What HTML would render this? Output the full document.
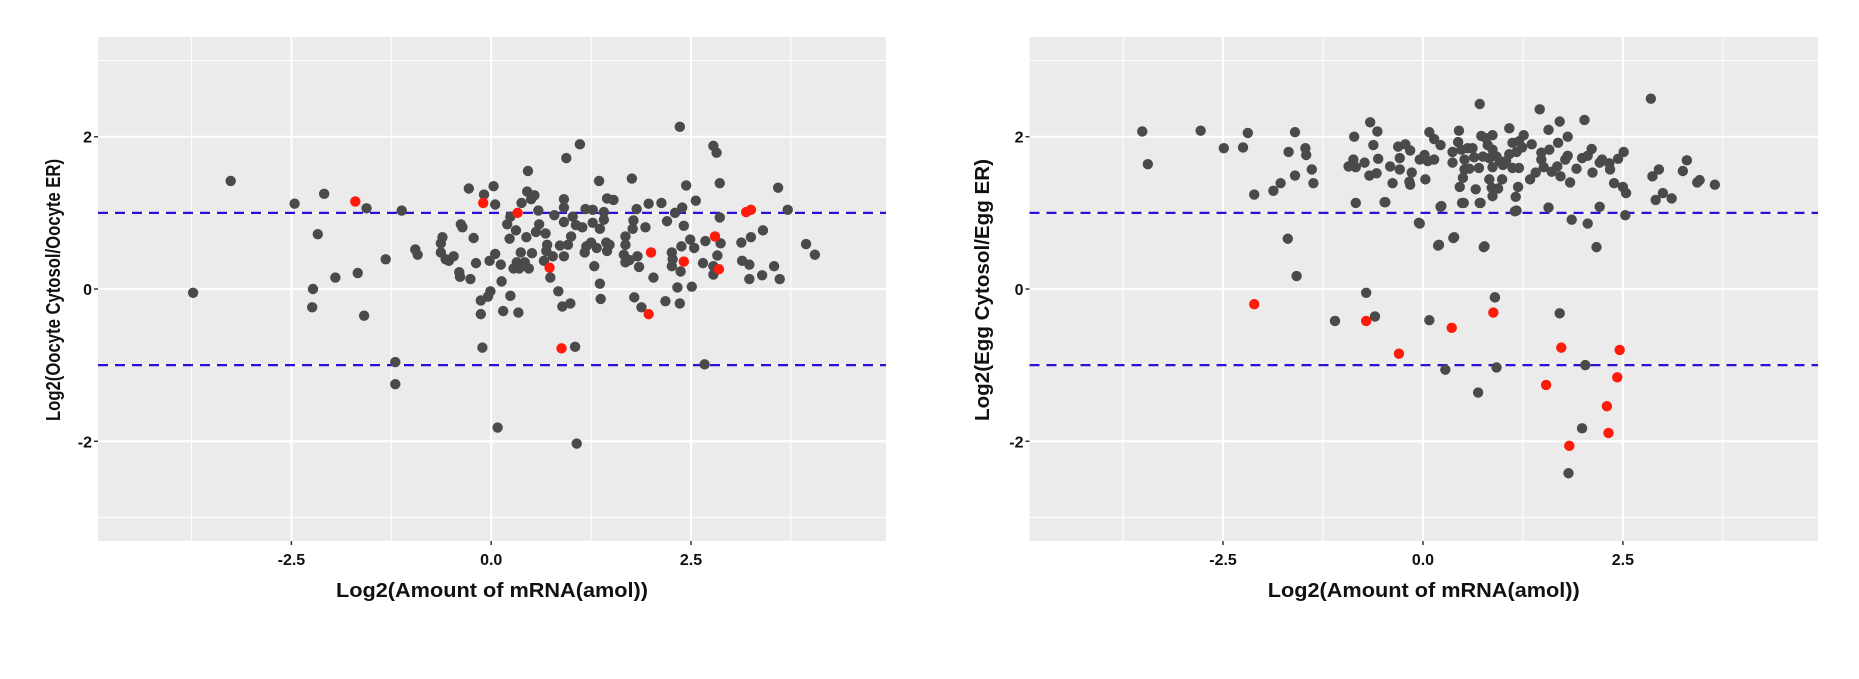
<!DOCTYPE html>
<html><head><meta charset="utf-8"><style>
html,body{margin:0;padding:0;background:#fff;}
svg{display:block;font-family:"Liberation Sans",Arial,sans-serif;}
</style></head><body>
<svg id="chart" width="1859" height="679" viewBox="0 0 1859 679"></svg>
<script>
const xTicks = [-2.5, 0, 2.5];
const xTickLabels = ["-2.5", "0.0", "2.5"];
const yTicks = [-2, 0, 2];
const yTickLabels = ["-2", "0", "2"];
const thresholds = [1, -1];
const leftGrayX = [-3.73,-3.26,-2.46,-2.09,-2.17,-2.23,-2.24,-1.95,-1.67,-1.56,-1.59,-1.32,-1.12,-1.2,-1.2,-0.95,-0.92,0.08,1.07,
2.36,1.11,2.78,2.82,0.94,0.46,2.86,1.35,1.76,2.44,3.59,-0.28,0.03,-0.09,0.05,0.38,0.45,0.54,0.5,0.91,0.91,0.59,0.79,1.45,1.53,1.18,1.27,1.41,1.82,1.97,2.13,2.39,2.56,2.3,2.86,3.71,
0.24,0.2,-0.38,-0.36,0.6,0.56,0.31,0.44,0.68,0.91,1.02,1.06,1.14,1.0,0.96,0.86,1.27,1.36,1.41,1.78,1.77,1.93,2.2,2.41,1.68,1.68,2.49,2.38,2.54,2.68,2.87,3.13,3.25,3.4,3.94,4.05,
-0.61,-0.63,-0.22,0.23,0.7,0.69,1.19,1.25,1.32,1.44,1.48,1.17,1.45,-0.63,-0.57,-0.47,-0.53,0.05,-0.02,0.37,0.51,0.77,0.91,0.66,0.32,0.42,0.28,0.35,0.47,0.12,-0.19,
1.66,1.68,1.73,1.83,1.85,2.26,2.27,2.26,2.83,2.65,2.78,2.78,3.14,3.23,3.54,3.23,3.39,3.61,2.37,2.03,1.29,1.36,0.74,0.13,-0.4,-0.39,-0.26,
-0.01,-0.04,-0.13,-0.13,0.15,0.24,0.34,0.84,0.89,0.99,1.37,1.79,1.88,2.18,2.36,2.33,2.51,-0.11,1.05,2.67];
const leftGrayY = [-0.05,1.42,1.12,1.25,0.72,0.0,-0.24,0.15,0.21,1.06,-0.35,0.39,1.03,-0.96,-1.25,0.52,0.45,-1.82,-2.03,
2.13,1.9,1.88,1.79,1.72,1.55,1.39,1.42,1.45,1.36,1.33,1.32,1.35,1.24,1.11,1.13,1.28,1.23,1.18,1.18,1.07,1.03,0.97,1.19,1.17,1.05,1.04,1.01,1.05,1.12,1.13,1.07,1.16,1.0,0.94,1.04,
0.95,0.85,0.85,0.81,0.85,0.75,0.77,0.68,0.73,0.88,0.95,0.84,0.81,0.69,0.58,0.57,0.87,0.79,0.91,0.9,0.79,0.81,0.89,0.83,0.69,0.58,0.65,0.56,0.54,0.63,0.6,0.61,0.68,0.77,0.59,0.45,
0.68,0.6,0.67,0.66,0.58,0.5,0.56,0.61,0.54,0.61,0.58,0.48,0.5,0.48,0.39,0.43,0.37,0.46,0.37,0.48,0.47,0.43,0.43,0.37,0.35,0.35,0.27,0.27,0.27,0.32,0.34,
0.45,0.35,0.38,0.43,0.29,0.48,0.39,0.3,0.44,0.34,0.3,0.19,0.37,0.32,0.3,0.13,0.18,0.13,0.23,0.15,0.3,0.07,0.15,0.1,0.22,0.16,0.13,
-0.03,-0.1,-0.15,-0.33,-0.29,-0.09,-0.31,-0.03,-0.23,-0.19,-0.13,-0.11,-0.24,-0.16,-0.19,0.02,0.03,-0.77,-0.76,-0.99];
const leftRedX = [-1.7,-0.1,0.33,0.73,0.88,2.0,1.97,2.41,2.8,2.85,3.19,3.25];
const leftRedY = [1.15,1.13,1.0,0.28,-0.78,0.48,-0.33,0.36,0.69,0.26,1.01,1.04];
const rightGrayX = [-3.51,-3.44,-2.78,-2.49,-2.25,-2.19,-2.11,-1.87,-1.78,-1.68,-1.6,-1.6,-1.47,-1.46,-1.39,-1.37,-1.69,-1.58,-1.1,-0.71,-0.6,0.08,0.28,0.69,0.92,0.9,-0.05,0.19,0.38,0.76,0.22,0.49,0.71,1.15,-0.48,
-0.86,-0.66,-0.57,-0.62,-0.56,-0.87,-0.93,-0.84,-0.73,-0.67,-0.58,-0.84,-0.47,-0.38,-0.41,-0.31,-0.22,-0.16,-0.29,-0.29,-0.17,-0.16,-0.14,-0.04,0.02,0.06,0.14,0.03,-0.04,
0.08,0.14,0.22,0.23,0.2,0.39,0.45,0.44,0.37,0.37,0.48,0.52,0.56,0.62,0.64,0.52,0.58,0.7,0.5,0.46,0.66,0.51,0.72,0.77,0.71,0.73,0.79,0.87,0.81,0.87,0.75,0.83,0.92,0.96,0.87,1.0,1.04,
0.83,0.99,0.86,0.94,0.87,1.08,1.12,1.2,1.26,1.24,1.17,1.08,1.12,1.2,1.19,1.16,1.17,1.36,1.46,1.48,1.48,1.58,1.57,1.69,1.71,1.51,1.41,1.34,1.61,1.68,1.72,1.78,1.81,1.81,1.84,1.57,
1.92,1.99,2.06,2.11,2.02,2.12,2.21,1.86,2.06,2.17,2.21,2.24,2.33,2.34,2.44,2.51,2.39,2.5,2.54,2.53,2.85,2.87,2.95,2.91,3.0,3.11,3.25,3.3,3.43,3.46,3.65,
0.9,1.71,2.03,1.99,1.82];
const rightGrayY = [2.07,1.64,2.08,1.85,1.86,2.05,1.24,1.29,1.39,1.8,2.06,1.49,1.85,1.76,1.57,1.39,0.66,0.17,-0.42,-0.05,-0.36,-0.41,-1.06,-1.36,-1.03,-0.11,0.87,0.57,0.67,0.55,1.08,1.13,1.13,1.02,1.14,
2.0,2.19,2.07,1.89,1.71,1.7,1.61,1.6,1.66,1.49,1.52,1.13,1.14,1.39,1.61,1.87,1.9,1.82,1.72,1.57,1.41,1.37,1.53,1.7,1.76,1.68,1.7,1.44,0.86,
2.06,1.97,1.89,1.09,0.58,0.68,2.08,1.93,1.8,1.66,1.83,1.7,1.85,1.85,1.73,1.57,1.58,1.59,1.46,1.34,1.31,1.13,1.13,0.56,2.43,2.01,1.98,2.02,1.89,1.83,1.74,1.72,1.74,1.68,1.6,1.63,1.68,
1.44,1.44,1.33,1.32,1.22,2.11,1.92,1.94,2.02,1.86,1.8,1.77,1.59,1.59,1.34,1.21,1.03,1.9,2.36,1.79,1.7,1.83,2.09,1.92,2.2,1.6,1.53,1.44,1.54,1.61,1.48,1.7,1.75,2.0,1.4,1.07,
1.58,1.72,1.75,1.84,2.22,1.53,1.08,0.91,0.86,0.55,1.66,1.7,1.65,1.57,1.71,1.8,1.39,1.34,1.26,0.97,2.5,1.48,1.57,1.17,1.26,1.19,1.55,1.69,1.4,1.43,1.37,
-0.11,-0.32,-1.0,-1.83,-2.42];
const rightRedX = [-2.11,-0.71,-0.3,0.36,0.88,1.54,1.73,2.46,2.43,2.3,2.32,1.83];
const rightRedY = [-0.2,-0.42,-0.85,-0.51,-0.31,-1.26,-0.77,-0.8,-1.16,-1.54,-1.89,-2.06];

const NS = "http://www.w3.org/2000/svg";
const svg = document.getElementById("chart");
function mk(tag, attrs, parent) {
  const e = document.createElementNS(NS, tag);
  for (const k in attrs) e.setAttribute(k, attrs[k]);
  (parent || svg).appendChild(e);
  return e;
}
const Y0 = 37, Y1 = 541, XMIN = -4.92, XMAX = 4.94, YMIN = -3.31, YMAX = 3.31;

function panel(name, left, right, yTitle, yTitleX, grayX, grayY, redX, redY) {
  const g = mk("g", {});
  
  
  const sx = v => left + (v - XMIN) / (XMAX - XMIN) * (right - left);
  const sy = v => Y1 - (v - YMIN) / (YMAX - YMIN) * (Y1 - Y0);
  const bg = mk("rect", {x: left, y: Y0, width: right - left, height: Y1 - Y0, fill: "#ebebeb"}, g);
  
  
  // minor grid
  for (let i = 0; i < xTicks.length + 1; i++) {
    const v = (i === 0 ? xTicks[0] - 1.25 : xTicks[i - 1] + 1.25);
    const ln = mk("line", {x1: sx(v), x2: sx(v), y1: Y0, y2: Y1, stroke: "#fff", "stroke-width": 1}, g);
    
    
  }
  for (let i = 0; i < yTicks.length + 1; i++) {
    const v = (i === 0 ? yTicks[0] - 1 : yTicks[i - 1] + 1);
    const ln = mk("line", {x1: left, x2: right, y1: sy(v), y2: sy(v), stroke: "#fff", "stroke-width": 1}, g);
    
    
  }
  xTicks.forEach((v, i) => {
    const ln = mk("line", {x1: sx(v), x2: sx(v), y1: Y0, y2: Y1, stroke: "#fff", "stroke-width": 2}, g);
    
    
    const tk = mk("line", {x1: sx(v), x2: sx(v), y1: Y1, y2: Y1 + 4, stroke: "#333", "stroke-width": 1.5}, g);
    
    
    const t = mk("text", {x: sx(v), y: 565, "text-anchor": "middle", "font-size": 16, "font-weight": "bold", fill: "#111"}, g);
    t.textContent = xTickLabels[i];
    
    
  });
  yTicks.forEach((v, i) => {
    const ln = mk("line", {x1: left, x2: right, y1: sy(v), y2: sy(v), stroke: "#fff", "stroke-width": 2}, g);
    
    
    const tk = mk("line", {x1: left - 4, x2: left, y1: sy(v), y2: sy(v), stroke: "#333", "stroke-width": 1.5}, g);
    
    
    const t = mk("text", {x: left - 6, y: sy(v) + 6, "text-anchor": "end", "font-size": 16, "font-weight": "bold", fill: "#111"}, g);
    t.textContent = yTickLabels[i];
    
    
  });
  thresholds.forEach(v => {
    const ln = mk("line", {x1: left, x2: right, y1: sy(v), y2: sy(v), stroke: "#2a10d8", "stroke-width": 2.2, "stroke-dasharray": "10 7"}, g);
    
    
  });
  grayX.forEach((v, i) => {
    const c = mk("circle", {cx: sx(v), cy: sy(grayY[i]), r: 5.2, fill: "#4a4a4a"}, g);
    
    
  });
  redX.forEach((v, i) => {
    const c = mk("circle", {cx: sx(v), cy: sy(redY[i]), r: 5.2, fill: "#ff1a0a"}, g);
    
    
  });
  const xt = mk("text", {x: (left + right) / 2, y: 597, "text-anchor": "middle", "font-size": 20, "font-weight": "bold", fill: "#111", textLength: 312, lengthAdjust: "spacingAndGlyphs"}, g);
  xt.textContent = "Log2(Amount of mRNA(amol))";
  
  
  const len = yTitle.length > 30 ? 325 : 262;
  const yt = mk("text", {x: 0, y: 0, "text-anchor": "middle", "font-size": 20, "font-weight": "bold", fill: "#111", textLength: len, lengthAdjust: "spacingAndGlyphs", transform: "translate(" + (yTitleX + 7) + ",290) rotate(-90)"}, g);
  yt.textContent = yTitle;
  
  
}
panel("left-panel", 98, 886, "Log2(Oocyte Cytosol/Oocyte ER)", 53, leftGrayX, leftGrayY, leftRedX, leftRedY);
panel("right-panel", 1029.5, 1818, "Log2(Egg Cytosol/Egg ER)", 982, rightGrayX, rightGrayY, rightRedX, rightRedY);
</script>
</body></html>
